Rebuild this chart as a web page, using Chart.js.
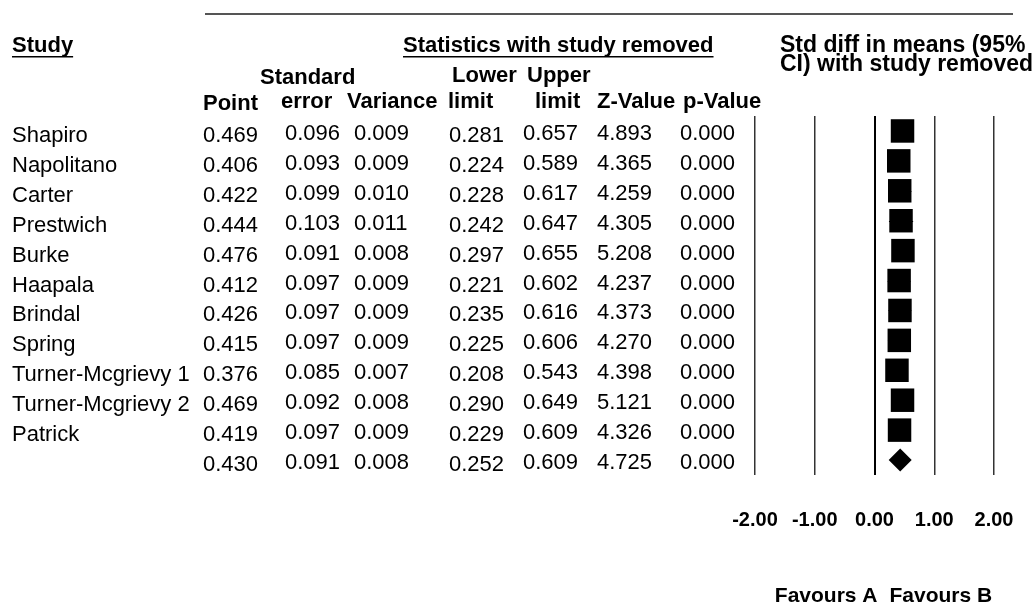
<!DOCTYPE html>
<html>
<head>
<meta charset="utf-8">
<title>Std diff in means with study removed</title>
<script src="https://cdn.jsdelivr.net/npm/chart.js@4.4.1/dist/chart.umd.min.js"></script>
<style>
  html, body { margin: 0; padding: 0; background: #fff; }
  #wrap { width: 1033px; height: 606px; position: relative; }
</style>
</head>
<body>
<div id="wrap"><canvas id="forestChart"></canvas></div>
<script>
// rows: 11 studies, last row = combined estimate (no name)
const studies = ['Shapiro', 'Napolitano', 'Carter', 'Prestwich', 'Burke', 'Haapala',
    'Brindal', 'Spring', 'Turner-Mcgrievy 1', 'Turner-Mcgrievy 2', 'Patrick', ''];
const point = [0.469, 0.406, 0.422, 0.444, 0.476, 0.412, 0.426, 0.415, 0.376, 0.469, 0.419, 0.430];
const stdError = [0.096, 0.093, 0.099, 0.103, 0.091, 0.097, 0.097, 0.097, 0.085, 0.092, 0.097, 0.091];
const variance = [0.009, 0.009, 0.010, 0.011, 0.008, 0.009, 0.009, 0.009, 0.007, 0.008, 0.009, 0.008];
const lowerLimit = [0.281, 0.224, 0.228, 0.242, 0.297, 0.221, 0.235, 0.225, 0.208, 0.290, 0.229, 0.252];
const upperLimit = [0.657, 0.589, 0.617, 0.647, 0.655, 0.602, 0.616, 0.606, 0.543, 0.649, 0.609, 0.609];
const zValue = [4.893, 4.365, 4.259, 4.305, 5.208, 4.237, 4.373, 4.270, 4.398, 5.121, 4.326, 4.725];
const pValue = [0.000, 0.000, 0.000, 0.000, 0.000, 0.000, 0.000, 0.000, 0.000, 0.000, 0.000, 0.000];
const axisTicks = [-2, -1, 0, 1, 2];

const FONT = '"Liberation Sans", Arial, sans-serif';
const last = studies.length - 1;

// table columns: x = left edge, dy = small baseline shift seen in the original
const columns = [
    { values: studies, x: 12, dy: 2, fmt: v => v },
    { values: point, x: 203, dy: 2 },
    { values: stdError, x: 285, dy: 0 },
    { values: variance, x: 354, dy: 0 },
    { values: lowerLimit, x: 449, dy: 2 },
    { values: upperLimit, x: 523, dy: 0 },
    { values: zValue, x: 597, dy: 0 },
    { values: pValue, x: 680, dy: 0 }
];

const headers = [
    { text: 'Standard', x: 260, y: 84 },
    { text: 'Lower', x: 452, y: 82 },
    { text: 'Upper', x: 527, y: 82 },
    { text: 'Point', x: 203, y: 110 },
    { text: 'error', x: 281, y: 108 },
    { text: 'Variance', x: 347, y: 108 },
    { text: 'limit', x: 448, y: 108 },
    { text: 'limit', x: 535, y: 108 },
    { text: 'Z-Value', x: 597, y: 108 },
    { text: 'p-Value', x: 683, y: 108 }
];

function underlined(ctx, text, x, y) {
    ctx.fillText(text, x, y);
    const w = ctx.measureText(text).width;
    ctx.fillRect(x, y + 4, w, 1.5);
}

const ciLines = {
    id: 'ciLines',
    beforeDatasetsDraw(chart) {
        const { ctx, scales: { x, y } } = chart;
        ctx.save();
        ctx.strokeStyle = '#000';
        ctx.lineWidth = 1;
        for (let i = 0; i < last; i++) {
            const py = Math.round(y.getPixelForValue(i)) + 0.5;
            ctx.beginPath();
            ctx.moveTo(x.getPixelForValue(lowerLimit[i]), py);
            ctx.lineTo(x.getPixelForValue(upperLimit[i]), py);
            ctx.stroke();
        }
        ctx.restore();
    }
};

const tableText = {
    id: 'tableText',
    afterDraw(chart) {
        const { ctx, scales: { x, y } } = chart;
        ctx.save();

        ctx.strokeStyle = '#555';
        ctx.lineWidth = 2;
        ctx.beginPath();
        ctx.moveTo(205, 14);
        ctx.lineTo(1013, 14);
        ctx.stroke();

        ctx.fillStyle = '#000';
        ctx.textBaseline = 'alphabetic';
        ctx.textAlign = 'left';
        ctx.font = 'bold 22px ' + FONT;
        underlined(ctx, 'Study', 12, 52);
        underlined(ctx, 'Statistics with study removed', 403, 52);
        headers.forEach(h => ctx.fillText(h.text, h.x, h.y));

        ctx.font = 'bold 23px ' + FONT;
        ctx.fillText('Std diff in means (95%', 780, 52);
        ctx.fillText('CI) with study removed', 780, 71);

        ctx.font = '22px ' + FONT;
        studies.forEach((s, i) => {
            const py = y.getPixelForValue(i) + 9;
            columns.forEach(c => {
                const v = c.values[i];
                const txt = c.fmt ? c.fmt(v) : v.toFixed(3);
                ctx.fillText(txt, c.x, py + c.dy);
            });
        });

        ctx.font = 'bold 21px ' + FONT;
        const x0 = x.getPixelForValue(0);
        ctx.textAlign = 'right';
        ctx.fillText('Favours A', x0 + 3, 602);
        ctx.textAlign = 'left';
        ctx.fillText('Favours B', x0 + 15, 602);
        ctx.restore();
    }
};

new Chart(document.getElementById('forestChart'), {
    type: 'scatter',
    data: {
        datasets: [{
            label: 'Study removed',
            data: point.slice(0, last).map((v, i) => ({ x: v, y: i })),
            pointStyle: 'rect',
            radius: 16.6,
            backgroundColor: '#000',
            borderColor: '#000',
            borderWidth: 0
        }, {
            label: 'Combined',
            data: [{ x: point[last], y: last }],
            pointStyle: 'rectRot',
            radius: 11.5,
            backgroundColor: '#000',
            borderColor: '#000',
            borderWidth: 0
        }]
    },
    options: {
        responsive: true,
        maintainAspectRatio: false,
        animation: false,
        layout: { padding: { left: 755, right: 39, top: 116, bottom: 41 } },
        plugins: {
            legend: { display: false },
            tooltip: { enabled: false }
        },
        scales: {
            x: {
                type: 'linear',
                min: -2,
                max: 2,
                afterBuildTicks: s => { s.ticks = axisTicks.map(v => ({ value: v })); },
                border: { display: false },
                grid: {
                    drawTicks: false,
                    color: c => c.tick && c.tick.value === 0 ? '#000' : '#333',
                    lineWidth: c => c.tick && c.tick.value === 0 ? 2 : 1.5
                },
                ticks: {
                    autoSkip: false,
                    maxRotation: 0,
                    padding: 0,
                    color: '#000',
                    // tall line box pushes the labels down, well below the plot
                    font: { family: FONT, size: 20, weight: 'bold', lineHeight: 4.5 },
                    callback: v => v.toFixed(2)
                }
            },
            y: {
                type: 'linear',
                display: false,
                reverse: true,
                min: -0.5,
                max: 11.5
            }
        }
    },
    plugins: [ciLines, tableText]
});
</script>
</body>
</html>
